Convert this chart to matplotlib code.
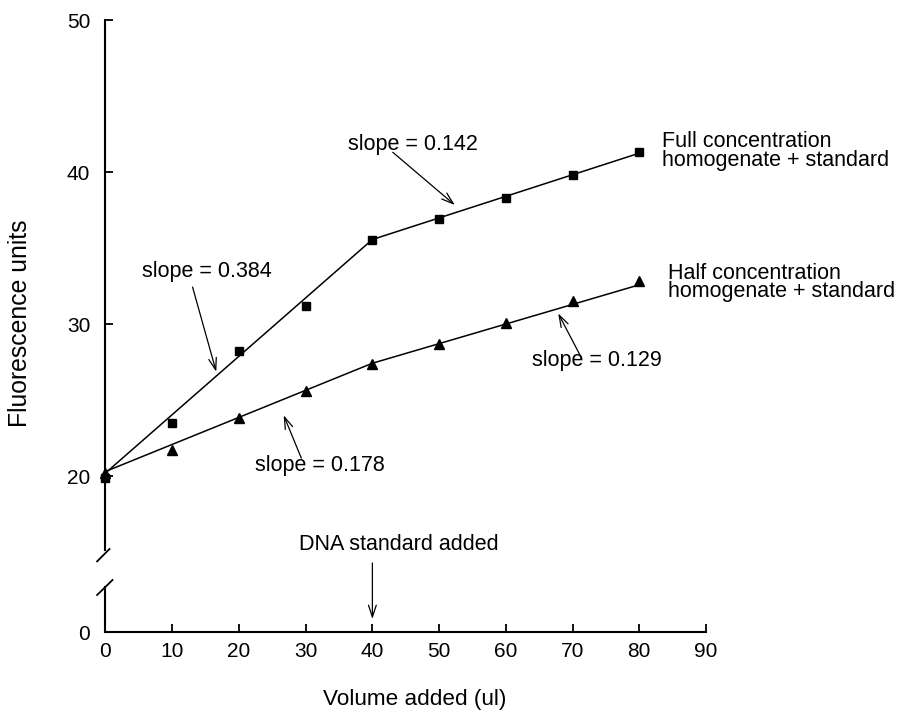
import numpy as np
import matplotlib
matplotlib.use("Agg")
import matplotlib.pyplot as plt
from matplotlib.lines import Line2D

plt.rcParams["font.family"] = ["Liberation Sans", "DejaVu Sans"]

# Measured fluorescence vs. volume of DNA standard added
volume = [0, 10, 20, 30, 40, 50, 60, 70, 80]
full_conc = [19.9, 23.5, 28.2, 31.2, 35.5, 36.9, 38.3, 39.8, 41.3]
half_conc = [20.2, 21.7, 23.8, 25.6, 27.4, 28.7, 30.1, 31.5, 32.8]

# Piecewise linear fits (change of slope where the standard was added)
knee = 40
fit_end = 80
full_fit_start = 20.2
half_fit_start = 20.3
full_slopes = [0.384, 0.142]
half_slopes = [0.178, 0.129]

x_ticks = [0, 10, 20, 30, 40, 50, 60, 70, 80, 90]
y_ticks = [0, 20, 30, 40, 50]

# Broken y axis: 0..LOW_TOP shown, LOW_TOP..HIGH_BOTTOM squeezed into GAP
LOW_TOP = 3.0
HIGH_BOTTOM = 15.0
GAP = 2.26
K = GAP / (HIGH_BOTTOM - LOW_TOP)


def fwd(y):
    y = np.asarray(y, dtype=float)
    return np.where(y <= LOW_TOP, y,
                    np.where(y >= HIGH_BOTTOM, y - HIGH_BOTTOM + LOW_TOP + GAP,
                             LOW_TOP + (y - LOW_TOP) * K))


def inv(t):
    t = np.asarray(t, dtype=float)
    return np.where(t <= LOW_TOP, t,
                    np.where(t >= LOW_TOP + GAP, t - LOW_TOP - GAP + HIGH_BOTTOM,
                             LOW_TOP + (t - LOW_TOP) / K))


W, H = 903, 722
fig = plt.figure(figsize=(W / 100, H / 100), dpi=100)
ax_l, ax_b = 105.5 / W, 1 - 632 / H
ax_w, ax_h = (706 - 105.5) / W, (632 - 20) / H
ax = fig.add_axes([ax_l, ax_b, ax_w, ax_h])

ax.set_xlim(0, 90)
ax.set_yscale("function", functions=(fwd, inv))
ax.set_ylim(0, 50)

for side in ("top", "right", "left"):
    ax.spines[side].set_visible(False)
ax.spines["bottom"].set_linewidth(1.5)

ax.set_xticks(x_ticks)
ax.set_yticks(y_ticks)
ax.set_yticklabels([str(v) for v in y_ticks])
ax.tick_params(axis="both", direction="in", length=6, width=1.3, labelsize=15)
ax.tick_params(axis="y", pad=11)
ax.tick_params(axis="x", pad=7)

# Left axis drawn in two pieces with break marks
low_frac, high_frac = 45 / 612, 82 / 612
ax.plot([0, 0], [0, low_frac], transform=ax.transAxes, color="black", lw=1.5, clip_on=False)
ax.plot([0, 0], [high_frac, 1], transform=ax.transAxes, color="black", lw=1.5, clip_on=False)


def slash(frac, dx0, dy0, dx1, dy1):
    yc = ax_b + frac * ax_h
    fig.add_artist(Line2D([ax_l + dx0 / W, ax_l + dx1 / W],
                          [yc + dy0 / H, yc + dy1 / H], color="black", lw=1.3))


slash(79 / 612, -8.4, -8.4, 4.0, 4.0)
slash(45 / 612, -8.4, -8.0, 7.0, 7.0)

# Fitted line segments
seg1 = np.array([0, knee])
seg2 = np.array([knee, fit_end])
full_knee = full_fit_start + full_slopes[0] * knee
half_knee = half_fit_start + half_slopes[0] * knee
full_line_x = np.concatenate([seg1, seg2[1:]])
full_line_y = [full_fit_start, full_knee, full_knee + full_slopes[1] * (fit_end - knee)]
half_line_y = [half_fit_start, half_knee, half_knee + half_slopes[1] * (fit_end - knee)]
ax.plot(full_line_x, full_line_y, color="black", lw=1.1, clip_on=False, zorder=2)
ax.plot(full_line_x, half_line_y, color="black", lw=1.1, clip_on=False, zorder=2)

# Measured points
ax.plot(volume, full_conc, ls="none", marker="s", ms=6.2, color="black", clip_on=False, zorder=3)
ax.plot(volume, half_conc, ls="none", marker="^", ms=7.5, color="black", clip_on=False, zorder=4)

fs = 15.5
arrow = dict(arrowstyle="->,head_length=0.85,head_width=0.28", lw=0.9,
             color="black", shrinkA=0, shrinkB=0, mutation_scale=10)

# Slope annotations
slope_labels = [
    (f"slope = {full_slopes[0]}", (15.2, 33.44), (13.05, 32.43), (16.6, 26.86)),
    (f"slope = {full_slopes[1]}", (46.05, 41.78), (43.05, 41.3), (52.35, 37.83)),
    (f"slope = {half_slopes[0]}", (32.2, 20.72), (29.35, 21.18), (26.7, 24.0)),
    (f"slope = {half_slopes[1]}", (73.7, 27.63), (71.35, 27.76), (67.85, 30.7)),
]
for text, tpos, tail, head in slope_labels:
    ax.text(tpos[0], tpos[1], text, fontsize=fs, ha="center", va="center", zorder=5)
    ax.annotate("", xy=head, xytext=tail, arrowprops=arrow, zorder=6)

ax.text(83.35, 41.39, "Full concentration\nhomogenate + standard", fontsize=fs,
        ha="left", va="center", linespacing=0.85)
ax.text(84.3, 32.74, "Half concentration\nhomogenate + standard", fontsize=fs,
        ha="left", va="center", linespacing=0.85)

ax.annotate("DNA standard added", xy=(knee, 13 / 612), xycoords=("data", "axes fraction"),
            xytext=(43.95, 87 / 612), textcoords=("data", "axes fraction"),
            fontsize=fs, ha="center", va="center")
ax.annotate("", xy=(knee, 13 / 612), xycoords=("data", "axes fraction"),
            xytext=(knee, 69 / 612), textcoords=("data", "axes fraction"),
            arrowprops=arrow)

ax.set_xlabel("Volume added (ul)", fontsize=16.2)
ax.xaxis.label.set_va("center")
ax.xaxis.set_label_coords((415 - 105.5) / 601, (632 - 699) / 612)
ax.set_ylabel("Fluorescence units", fontsize=17.8)
ax.yaxis.label.set_va("center")
ax.yaxis.set_label_coords((20 - 105.5) / 601, (632 - 323) / 612)

fig.savefig("out.png", dpi=100)
